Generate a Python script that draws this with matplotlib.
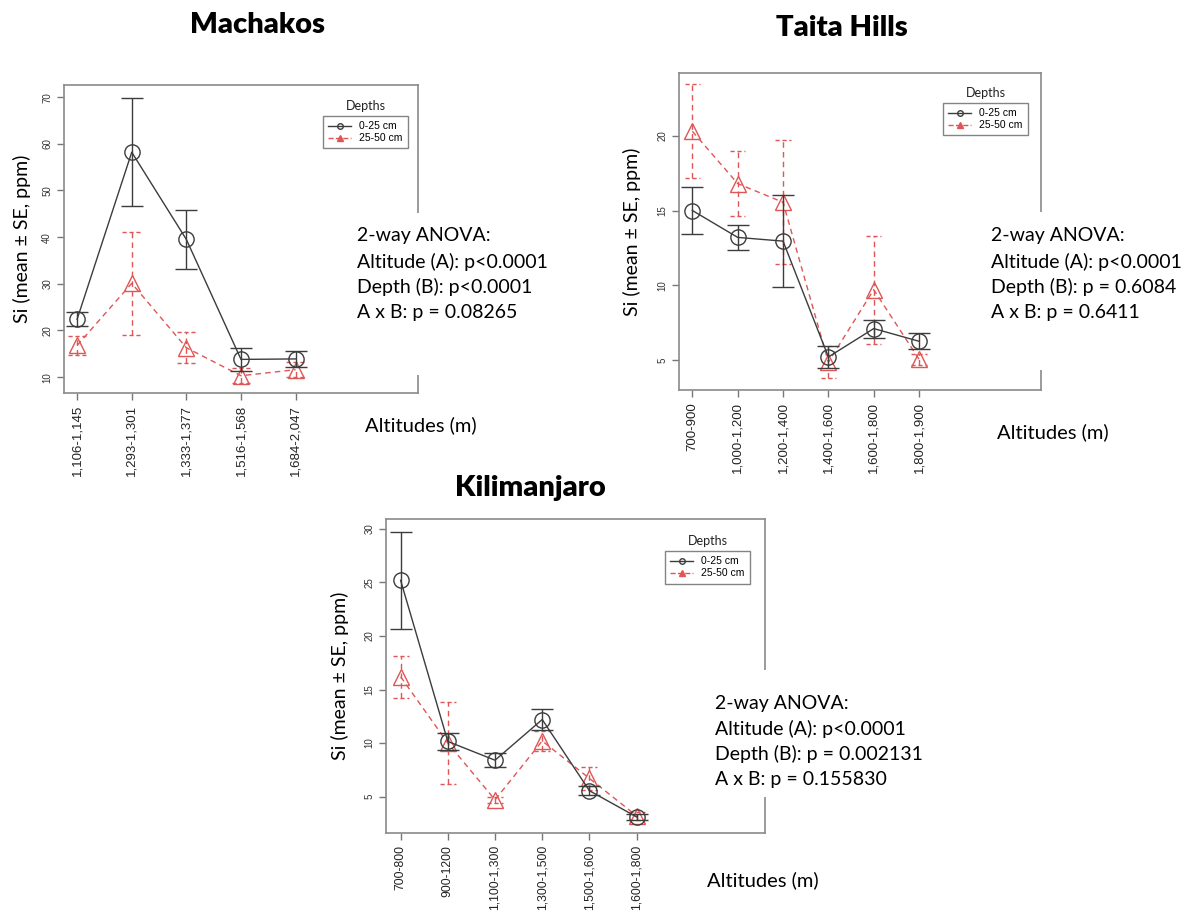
import matplotlib
matplotlib.use("Agg")
import matplotlib.pyplot as plt
from matplotlib.lines import Line2D
from matplotlib.patches import Rectangle

W, H = 1192, 913

# Machakos
mach_labels = ["1,106-1,145", "1,293-1,301", "1,333-1,377", "1,516-1,568", "1,684-2,047"]
mach_top = [22.4, 58.2, 39.5, 13.8, 13.9]
mach_top_se = [1.5, 11.6, 6.3, 2.5, 1.8]
mach_sub = [16.8, 30.1, 16.3, 10.3, 11.6]
mach_sub_se = [2.1, 11.0, 3.3, 1.6, 1.6]
mach_anova = ["2-way ANOVA:", "Altitude (A): p<0.0001", "Depth (B): p<0.0001", "A x B: p = 0.08265"]

# Taita Hills
taita_labels = ["700-900", "1,000-1,200", "1,200-1,400", "1,400-1,600", "1,600-1,800", "1,800-1,900"]
taita_top = [15.0, 13.2, 12.95, 5.2, 7.1, 6.25]
taita_top_se = [1.54, 0.86, 3.1, 0.75, 0.6, 0.55]
taita_sub = [20.3, 16.8, 15.55, 4.85, 9.7, 5.05]
taita_sub_se = [3.15, 2.15, 4.15, 1.07, 3.6, 0.37]
taita_anova = ["2-way ANOVA:", "Altitude (A): p<0.0001", "Depth (B): p = 0.6084", "A x B: p = 0.6411"]

# Kilimanjaro
kili_labels = ["700-800", "900-1200", "1,100-1,300", "1,300-1,500", "1,500-1,600", "1,600-1,800"]
kili_top = [25.2, 10.15, 8.4, 12.2, 5.55, 3.1]
kili_top_se = [4.55, 0.76, 0.63, 1.0, 0.42, 0.32]
kili_sub = [16.2, 10.0, 4.7, 10.2, 6.7, 3.2]
kili_sub_se = [1.95, 3.8, 0.3, 0.95, 1.1, 0.4]
kili_anova = ["2-way ANOVA:", "Altitude (A): p<0.0001", "Depth (B): p = 0.002131", "A x B: p = 0.155830"]

depth_names = ["0-25 cm", "25-50 cm"]

BLACK = "#3c3c3c"
RED = "#e05555"
FRAME = "#8a8a8a"
CAL = ["Lato", "DejaVu Sans"]
DASH = (0, (4, 3))

fig = plt.figure(figsize=(W / 100, H / 100), dpi=100)


def fx(x):
    return x / W


def fy(y):
    return 1 - y / H


def panel(box, labels, top, top_se, sub, sub_se, xlim, ylim, yticks,
          title, title_xy, anova, anova_xy, hide_box, alt_xy, leg_xy, ylab_x,
          xfs=9.5):
    l, t, r, b = box
    ax = fig.add_axes([fx(l), fy(b), (r - l) / W, (b - t) / H])
    x = list(range(1, len(labels) + 1))
    ax.set_xlim(*xlim)
    ax.set_ylim(*ylim)

    # 25-50 cm, dashed bars and caps
    lo = [m - s for m, s in zip(sub, sub_se)]
    hi = [m + s for m, s in zip(sub, sub_se)]
    cw = 0.17
    ax.vlines(x, lo, hi, color=RED, lw=1, linestyles=DASH, zorder=2)
    ax.hlines(lo, [v - cw for v in x], [v + cw for v in x], color=RED, lw=1,
              linestyles=(0, (3, 2)), zorder=2)
    ax.hlines(hi, [v - cw for v in x], [v + cw for v in x], color=RED, lw=1,
              linestyles=(0, (3, 2)), zorder=2)
    ax.plot(x, sub, color=RED, ls="--", dashes=(4, 3), lw=1, marker="^",
            ms=11, mfc="none", mec=RED, zorder=2)

    # 0-25 cm
    ax.errorbar(x, top, yerr=top_se, color=BLACK, ls="-", lw=1, marker="o", ms=11,
                mfc="none", mec=BLACK, capsize=8, elinewidth=1, capthick=1, zorder=3)

    ax.set_xticks(x)
    ax.set_xticklabels(labels, rotation=90, fontsize=xfs, family="Liberation Sans",
                       color="#222")
    ax.set_yticks(yticks)
    ax.set_yticklabels([str(v) for v in yticks], rotation=90, va="center", fontsize=7,
                       family="Liberation Sans", color="#333")
    ax.tick_params(length=5, color="#777", width=1)
    for s in ax.spines.values():
        s.set_color(FRAME)
        s.set_linewidth(1.2)

    handles = [Line2D([], [], color=BLACK, lw=1, marker="o", ms=4, mfc="none"),
               Line2D([], [], color=RED, lw=1, ls="--", marker="^", ms=4, mfc=RED)]
    lx, ly = leg_xy
    leg = ax.legend(handles, depth_names, loc="upper left",
                    bbox_to_anchor=(fx(lx), fy(ly)), bbox_transform=fig.transFigure,
                    frameon=True, fancybox=False, borderaxespad=0,
                    handlelength=2.2, borderpad=0.5, labelspacing=0.2,
                    handletextpad=0.8, prop={"family": "Liberation Sans", "size": 7.5})
    leg.get_frame().set_edgecolor("#666")
    leg.get_frame().set_linewidth(1)
    fig.canvas.draw()
    bb = leg.get_window_extent()
    fig.text((bb.x0 + bb.x1) / 2 / W, fy(ly - 10), "Depths", ha="center", va="center",
             fontsize=9, family=CAL, color="#222")

    fig.text(fx(ylab_x), (fy(t) + fy(b)) / 2, "Si (mean \u00b1 SE, ppm)", rotation=90,
             ha="center", va="center", fontsize=14, family=CAL)
    fig.text(fx(title_xy[0]), fy(title_xy[1]), title, ha="center", va="center",
             fontsize=21, fontweight="heavy", family=CAL)
    fig.text(fx(alt_xy[0]), fy(alt_xy[1]), "Altitudes (m)", ha="left", va="center",
             fontsize=14.5, family=CAL)

    hx0, hy0, hx1, hy1 = hide_box
    fig.add_artist(Rectangle((fx(hx0), fy(hy1)), (hx1 - hx0) / W, (hy1 - hy0) / H,
                             transform=fig.transFigure, facecolor="white",
                             edgecolor="none", zorder=2))
    ax0, ay0 = anova_xy
    for i, line in enumerate(anova):
        fig.text(fx(ax0), fy(ay0 + i * 25.5), line, ha="left", va="center",
                 fontsize=14, family=CAL, zorder=3)
    return ax


panel((64, 85, 418, 393), mach_labels, mach_top, mach_top_se, mach_sub, mach_sub_se,
      (0.76, 7.24), (6.6, 72.6), [10, 20, 30, 40, 50, 60, 70],
      "Machakos", (258, 25), mach_anova, (357, 236), (350, 213, 570, 375),
      (365, 425), (323, 116), 22)

panel((679, 73, 1041, 390), taita_labels, taita_top, taita_top_se, taita_sub,
      taita_sub_se, (0.705, 8.69), (2.99, 24.2), [5, 10, 15, 20],
      "Taita Hills", (842, 28), taita_anova, (991, 236), (984, 212, 1192, 370),
      (997, 432), (943, 103), 632)

panel((386, 519, 765, 833), kili_labels, kili_top, kili_top_se, kili_sub,
      kili_sub_se, (0.69, 8.72), (1.6, 30.93), [5, 10, 15, 20, 25, 30],
      "Kilimanjaro", (530, 488), kili_anova, (715, 703), (708, 670, 940, 797),
      (707, 880), (665, 551), 340, xfs=8.8)

fig.savefig("out.png", dpi=100)
